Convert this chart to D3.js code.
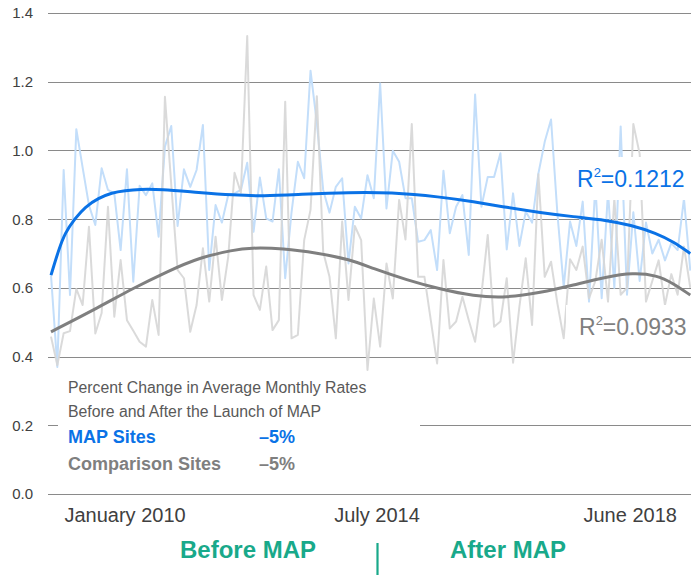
<!DOCTYPE html>
<html>
<head>
<meta charset="utf-8">
<script src="https://cdn.jsdelivr.net/npm/d3@7"></script>
<style>
  body { margin: 0; background: #fff; }
  text { font-family: "Liberation Sans", Arial, sans-serif; }
</style>
</head>
<body>
<div id="visualization"></div>
<script>
// monthly rates, MAP sites (light blue) and comparison sites (light gray)
const mapSites = [
  0.637, 0.370, 0.943, 0.579, 1.062, 0.950, 0.840, 0.783, 0.948, 0.885,
  0.875, 0.710, 0.945, 0.618, 0.897, 0.870, 0.904, 0.749, 1.011, 1.071,
  0.780, 0.945, 0.894, 0.943, 1.074, 0.652, 0.841, 0.790, 0.870, 0.875,
  0.885, 0.964, 0.763, 0.921, 0.802, 0.793, 0.945, 0.628, 0.820, 0.967,
  0.919, 1.232, 1.080, 0.885, 0.819, 0.894, 0.919, 0.671, 0.836, 0.802,
  0.928, 0.861, 1.195, 0.831, 0.999, 0.967, 0.861, 0.861, 0.734, 0.739,
  0.768, 0.652, 0.941, 0.759, 0.836, 0.870, 0.696, 1.163, 0.836, 0.923,
  0.923, 0.992, 0.712, 0.875, 0.722, 0.822, 0.790, 0.933, 1.025, 1.090,
  0.817, 0.603, 0.793, 0.722, 0.851, 0.560, 0.900, 0.570, 0.880, 0.600,
  1.070, 0.580, 0.820, 0.620, 0.790, 0.700, 0.740, 0.680, 0.730, 0.710,
  0.860, 0.650
];
const comparisonSites = [
  0.458, 0.375, 0.468, 0.474, 0.597, 0.550, 0.778, 0.467, 0.527, 0.836,
  0.516, 0.681, 0.506, 0.475, 0.443, 0.429, 0.565, 0.463, 1.156, 0.900,
  0.652, 0.628, 0.472, 0.550, 0.715, 0.560, 0.749, 0.565, 0.691, 0.935,
  0.877, 1.333, 0.579, 0.536, 0.662, 0.477, 0.506, 1.142, 0.453, 0.463,
  0.739, 0.827, 1.158, 0.705, 0.632, 0.453, 0.793, 0.565, 0.780, 0.739,
  0.361, 0.569, 0.429, 0.671, 0.569, 0.856, 0.741, 1.077, 0.632, 0.632,
  0.506, 0.380, 0.681, 0.482, 0.502, 0.574, 0.506, 0.443, 0.580, 0.754,
  0.487, 0.502, 0.628, 0.382, 0.545, 0.686, 0.492, 0.931, 0.632, 0.676,
  0.555, 0.453, 0.683, 0.652, 0.720, 0.570, 0.620, 0.740, 0.560, 0.860,
  0.580, 0.600, 1.077, 0.990, 0.560, 0.620, 0.680, 0.550, 0.640, 0.580,
  0.720, 0.600
];

// trendlines (point index, value)
const mapTrendIdx = [0, 1.2, 2.2, 3.8, 5.4, 7.5, 9.6, 11.7, 14, 17.2, 23.5, 28.8, 33.5, 39.3, 47.2, 53.6, 61.5, 66.7, 72, 77.3, 82.5, 87.8, 91.5, 95.7, 98.3, 101];
const mapTrendVal = [0.637, 0.71, 0.76, 0.802, 0.836, 0.861, 0.877, 0.883, 0.887, 0.887, 0.877, 0.87, 0.867, 0.872, 0.878, 0.878, 0.865, 0.851, 0.834, 0.819, 0.807, 0.797, 0.783, 0.759, 0.734, 0.70];
const compTrendIdx = [0, 7.7, 13, 18.3, 23.5, 28.8, 31.4, 36.7, 42, 47.2, 50.9, 56.2, 61.5, 66.7, 72, 77.3, 82.5, 87.8, 91.9, 95.7, 98.3, 101];
const compTrendVal = [0.472, 0.545, 0.599, 0.647, 0.689, 0.71, 0.717, 0.715, 0.702, 0.683, 0.656, 0.623, 0.596, 0.576, 0.571, 0.586, 0.608, 0.632, 0.644, 0.637, 0.613, 0.579];

const yTicks = [0, 0.2, 0.4, 0.6, 0.8, 1.0, 1.2, 1.4];
const xTickIndex = [11.7, 51.5, 91.5];
const xTickLabels = ["January 2010", "July 2014", "June 2018"];

const mapR2 = "0.1212";
const compR2 = "0.0933";
const legendTitle = ["Percent Change in Average Monthly Rates", "Before and After the Launch of MAP"];
const legendNames = ["MAP Sites", "Comparison Sites"];
const legendChange = ["\u20135%", "\u20135%"];
const periodLabels = ["Before MAP", "After MAP"];

const BLUE = "#0a72e6", GRAY = "#7f7f7f", GREEN = "#19a98a";

document.addEventListener("DOMContentLoaded", function() {
    const svg = d3.select("#visualization")
                  .append("svg")
                  .attr("width", 691)
                  .attr("height", 575);
    drawChart(svg);
});

function drawChart(svg) {
    const x = d3.scaleLinear().domain([0, mapSites.length - 1]).range([51, 690.3]);
    const y = d3.scaleLinear().domain([0, 1.4]).range([494, 13]);
    const crisp = v => Math.round(v) + 0.5;

    // gridlines + y labels
    svg.append("g").selectAll("line").data(yTicks).join("line")
       .attr("x1", 48).attr("x2", 691)
       .attr("y1", d => crisp(y(d))).attr("y2", d => crisp(y(d)))
       .attr("stroke", "#8a8a8a").attr("stroke-width", 1);
    svg.append("g").selectAll("text").data(yTicks).join("text")
       .attr("x", 33).attr("y", d => y(d)).attr("dy", "0.36em")
       .attr("text-anchor", "end").attr("font-size", 15).attr("fill", "#404040")
       .text(d => d.toFixed(1));

    const raw = d3.line().x((d, i) => x(i)).y(d => y(d));
    svg.append("path").datum(mapSites)
       .attr("fill", "none").attr("stroke", "#c3defa").attr("stroke-width", 2)
       .attr("stroke-linejoin", "round").attr("d", raw);
    svg.append("path").datum(comparisonSites)
       .attr("fill", "none").attr("stroke", "#d6d6d6").attr("stroke-opacity", 0.9)
       .attr("stroke-width", 2).attr("stroke-linejoin", "round").attr("d", raw);

    const trend = d3.line().x(d => x(d[0])).y(d => y(d[1])).curve(d3.curveBasis);
    svg.append("path").datum(d3.zip(compTrendIdx, compTrendVal))
       .attr("fill", "none").attr("stroke", GRAY).attr("stroke-width", 3).attr("d", trend);
    svg.append("path").datum(d3.zip(mapTrendIdx, mapTrendVal))
       .attr("fill", "none").attr("stroke", BLUE).attr("stroke-width", 3).attr("d", trend);

    // white label boxes
    svg.append("rect").attr("x", 566).attr("y", 157).attr("width", 125).attr("height", 43).attr("fill", "#fff");
    svg.append("rect").attr("x", 566).attr("y", 305).attr("width", 125).attr("height", 40).attr("fill", "#fff");
    svg.append("rect").attr("x", 58).attr("y", 375).attr("width", 362).attr("height", 112).attr("fill", "#fff");

    addR2(svg, 577, 187, mapR2, BLUE);
    addR2(svg, 579, 335, compR2, GRAY);

    // legend block
    svg.append("g").selectAll("text").data(legendTitle).join("text")
       .attr("x", 68).attr("y", (d, i) => 393 + i * 24)
       .attr("font-size", 15.8).attr("fill", "#595959").text(d => d);
    const colors = [BLUE, GRAY];
    legendNames.forEach((name, i) => {
        const yy = 443 + i * 27;
        svg.append("text").attr("x", 68).attr("y", yy).attr("font-size", 18)
           .attr("font-weight", "bold").attr("fill", colors[i]).text(name);
        svg.append("text").attr("x", 259).attr("y", yy).attr("font-size", 18)
           .attr("font-weight", "bold").attr("fill", colors[i]).text(legendChange[i]);
    });

    // x labels
    svg.append("g").selectAll("text").data(xTickIndex).join("text")
       .attr("x", d => x(d)).attr("y", 522)
       .attr("text-anchor", "middle").attr("font-size", 20).attr("fill", "#404040")
       .text((d, i) => xTickLabels[i]);

    // before / after
    svg.append("text").attr("x", 248).attr("y", 558).attr("text-anchor", "middle")
       .attr("font-size", 24).attr("font-weight", "bold").attr("fill", GREEN).text(periodLabels[0]);
    svg.append("text").attr("x", 508).attr("y", 558).attr("text-anchor", "middle")
       .attr("font-size", 24).attr("font-weight", "bold").attr("fill", GREEN).text(periodLabels[1]);
    svg.append("line").attr("x1", 377.5).attr("x2", 377.5).attr("y1", 543).attr("y2", 575)
       .attr("stroke", GREEN).attr("stroke-width", 2.2);
}

function addR2(svg, px, py, val, color) {
    const t = svg.append("text").attr("x", px).attr("y", py)
                 .attr("font-size", 23).attr("fill", color);
    t.append("tspan").text("R");
    t.append("tspan").attr("font-size", 13).attr("dy", -10).text("2");
    t.append("tspan").attr("dy", 10).text("=" + val);
}
</script>
</body>
</html>
